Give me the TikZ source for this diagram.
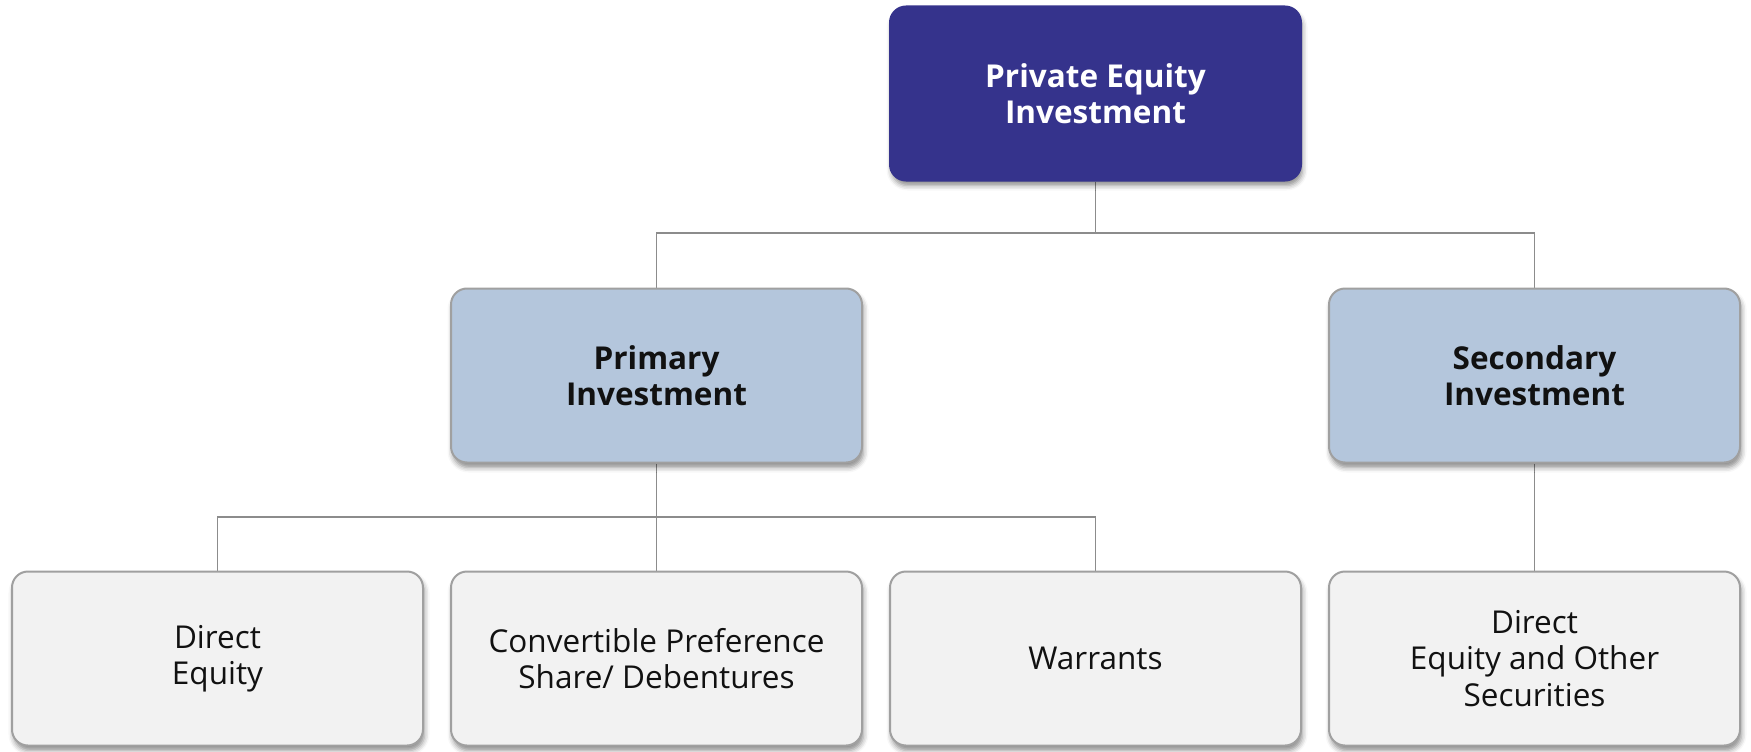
\documentclass[tikz,border=0pt]{standalone}
\usepackage{fontspec}
\setmainfont{Open Sans}
\usetikzlibrary{shadows.blur,backgrounds}
\definecolor{topfill}{HTML}{35338C}
\definecolor{midfill}{HTML}{B4C6DC}
\definecolor{leaffill}{HTML}{F2F2F2}
\definecolor{edgegray}{HTML}{A0A0A0}
\definecolor{linkgray}{HTML}{8C8C8C}
\definecolor{inktext}{HTML}{111111}
\begin{document}
\begin{tikzpicture}[x=1pt,y=-1pt,
  boxfont/.style={font=\fontsize{31.5}{36.5}\selectfont},
  box/.style={rounded corners=16pt, minimum width=411pt, minimum height=174pt,
    align=center, inner sep=0pt, line width=2pt, boxfont,
    blur shadow={shadow xshift=1.5pt, shadow yshift=-5pt,
      shadow blur radius=5pt, shadow opacity=45}},
  headbox/.style={box, fill=topfill, draw=topfill, text=white, font=\fontsize{31.5}{36.5}\selectfont\bfseries},
  midbox/.style={box, fill=midfill, draw=edgegray, text=inktext, font=\fontsize{31.5}{36.5}\selectfont\bfseries},
  leafbox/.style={box, fill=leaffill, draw=edgegray, text=inktext},
  link/.style={draw=linkgray, line width=1.5pt}]
\useasboundingbox (0,0) rectangle (1751,752);

% boxes
\node[headbox] (top)   at (1095.5,93.5)  {Private Equity\\Investment};
\node[midbox]  (prim)  at (656.5,375.5)  {Primary\\Investment};
\node[midbox]  (sec)   at (1534.5,375.5) {Secondary\\Investment};
\node[leafbox] (leafA) at (217.5,658.5)  {Direct\\Equity};
\node[leafbox] (leafB) at (656.5,658.5)  {Convertible Preference\\Share/ Debentures};
\node[leafbox] (leafC) at (1095.5,658.5) {Warrants};
\node[leafbox] (leafD) at (1534.5,658.5) {Direct\\Equity and Other\\Securities};

% junction points of the tree
\coordinate (j1) at (1095.5,233);
\coordinate (j2) at (656.5,517);

% connectors
\begin{scope}[on background layer]
  \draw[link] (top.south) -- (j1);
  \draw[link] (prim.north) |- (j1) -| (sec.north);
  \draw[link] (prim.south) -- (leafB.north);
  \draw[link] (leafA.north) |- (j2) -| (leafC.north);
  \draw[link] (sec.south) -- (leafD.north);
\end{scope}
\end{tikzpicture}
\end{document}
